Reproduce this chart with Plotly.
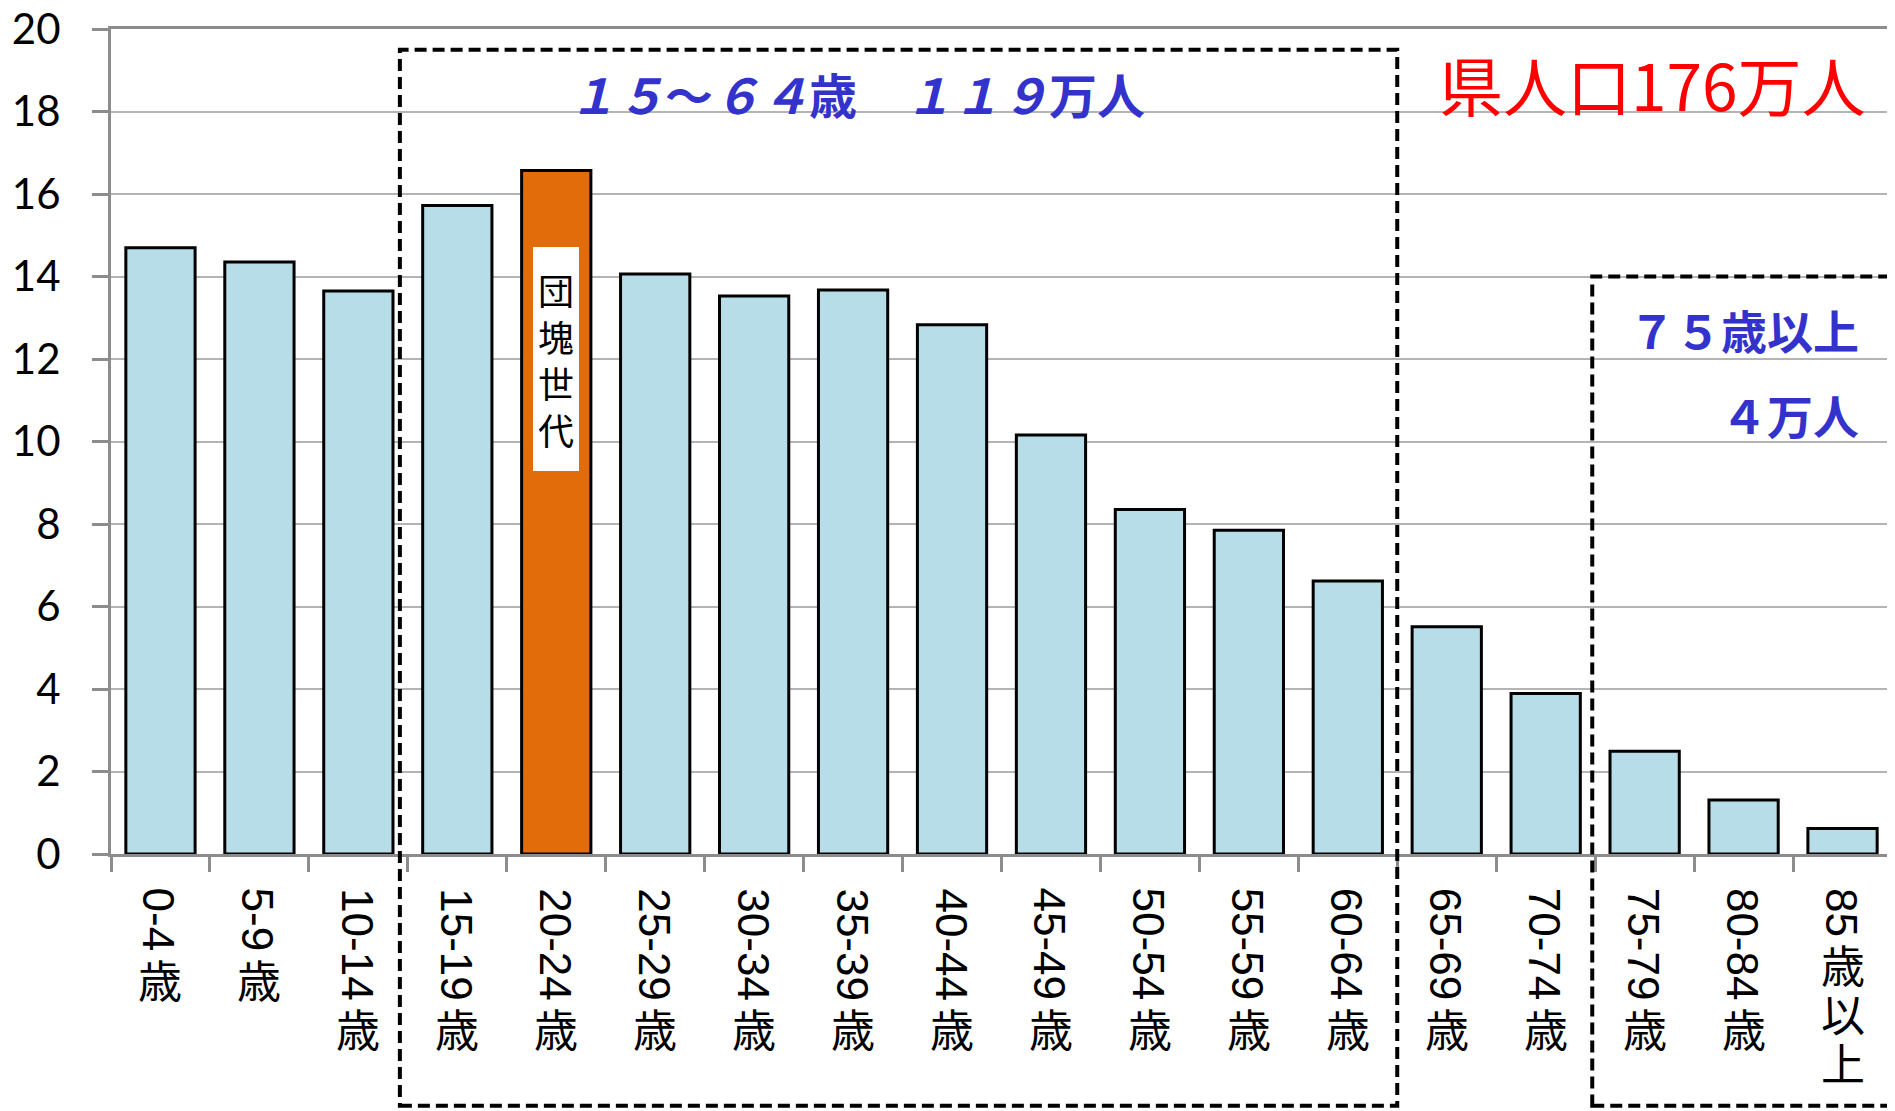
import plotly.graph_objects as go

# population by age group (万人)
AGE_GROUPS = [
    "0-4歳", "5-9歳", "10-14歳", "15-19歳", "20-24歳", "25-29歳",
    "30-34歳", "35-39歳", "40-44歳", "45-49歳", "50-54歳", "55-59歳",
    "60-64歳", "65-69歳", "70-74歳", "75-79歳", "80-84歳", "85歳以上",
]
POPULATION = [
    14.70, 14.35, 13.65, 15.72, 16.57, 14.06,
    13.53, 13.67, 12.83, 10.16, 8.35, 7.85,
    6.62, 5.51, 3.89, 2.49, 1.31, 0.62,
]
HIGHLIGHT_GROUP = "20-24歳"
HIGHLIGHT_LABEL = "団塊世代"
TOTAL_LABEL = "県人口176万人"
WORKING_LABEL = "<i>１５</i>～<i>６４</i>歳　<i>１１９</i>万人"
ELDERLY_LABEL = ["７５歳以上", "４万人"]

JP = "Noto Sans CJK JP"
LATIN = "Liberation Sans"
BLUE_TEXT = "#3333CC"
BAR_BLUE = "#B7DDE8"
BAR_ORANGE = "#E36C0A"
AXIS_GRAY = "#8c8c8c"
GRID_GRAY = "#b4b4b4"
LABEL_SIZE = 44


def split_label(label):
    i = 0
    while i < len(label) and (label[i].isdigit() or label[i] == "-"):
        i += 1
    return label[:i], label[i:]


def text_len(s, size):
    return sum(0.333 if c == "-" else 0.556 for c in s) * size


colors = [BAR_ORANGE if g == HIGHLIGHT_GROUP else BAR_BLUE for g in AGE_GROUPS]

fig = go.Figure()
fig.add_trace(
    go.Bar(
        x=AGE_GROUPS,
        y=POPULATION,
        marker=dict(color=colors, line=dict(color="black", width=3)),
        showlegend=False,
    )
)

annotations = []
# vertical (tategaki-like) category labels: digits turned, kanji upright
for g in AGE_GROUPS:
    num, kanji = split_label(g)
    L = text_len(num, LABEL_SIZE)
    annotations.append(dict(
        x=g, xref="x", y=0, yref="paper", yanchor="top", xanchor="center",
        text=num, textangle=90, showarrow=False, yshift=-32, xshift=-1,
        font=dict(family=LATIN, size=LABEL_SIZE, color="black"),
    ))
    for k, ch in enumerate(kanji):
        annotations.append(dict(
            x=g, xref="x", y=0, yref="paper", yanchor="middle", xanchor="center",
            text=ch, showarrow=False, yshift=-(61 + L + 49 * k),
            height=46, valign="middle", borderpad=0, borderwidth=0,
            font=dict(family=JP, size=LABEL_SIZE, color="black"),
        ))

annotations.append(dict(
    x=HIGHLIGHT_GROUP, xref="x", y=12, yref="y",
    text="<br>".join(HIGHLIGHT_LABEL), showarrow=False,
    bgcolor="white", width=36, height=214, borderpad=5, borderwidth=0,
    font=dict(family=JP, size=36, color="black"),
))
annotations.append(dict(
    x=7.04, xref="x", y=18.45, yref="y", text=WORKING_LABEL, showarrow=False,
    font=dict(family=JP, size=48, color=BLUE_TEXT, weight="bold"),
))
annotations.append(dict(
    x=15.08, xref="x", y=18.69, yref="y", text=TOTAL_LABEL, showarrow=False,
    font=dict(family=JP, size=64, color="#FF0000"),
))
for line, yv in zip(ELDERLY_LABEL, [12.73, 10.67]):
    annotations.append(dict(
        x=17.19, xref="x", y=yv, yref="y", xanchor="right", text=line,
        showarrow=False,
        font=dict(family=JP, size=46, color=BLUE_TEXT, weight="bold"),
    ))

dash_line = dict(color="black", width=4, dash="12px,6px")
shapes = [
    dict(type="rect", xref="paper", yref="paper", x0=0.1622, x1=0.7222,
         y0=-0.305, y1=0.975, line=dash_line, layer="above"),
    dict(type="rect", xref="paper", yref="paper", x0=0.8317, x1=1.006,
         y0=-0.305, y1=0.70, line=dash_line, layer="above"),
]

# page body has an 8px margin, so the figure is shrunk by that much
fig.update_layout(
    width=1887,
    height=1103,
    margin=dict(l=103, r=3, t=21, b=257, autoexpand=False),
    paper_bgcolor="white",
    plot_bgcolor="white",
    bargap=0.30,
    annotations=annotations,
    shapes=shapes,
    xaxis=dict(
        type="category",
        automargin=False,
        showticklabels=False,
        tickson="boundaries",
        ticks="outside",
        ticklen=15,
        tickwidth=3,
        tickcolor=AXIS_GRAY,
        showline=True,
        linecolor=AXIS_GRAY,
        linewidth=3,
        mirror=True,
        showgrid=False,
    ),
    yaxis=dict(
        range=[0, 20],
        dtick=2,
        tick0=0,
        automargin=False,
        showgrid=True,
        gridcolor=GRID_GRAY,
        gridwidth=2,
        zeroline=False,
        showline=True,
        linecolor=AXIS_GRAY,
        linewidth=3,
        mirror=True,
        ticks="outside",
        ticklen=16,
        tickwidth=3,
        tickcolor=AXIS_GRAY,
        ticklabelstandoff=23,
        ticklabeloverflow="allow",
        tickfont=dict(family="Lato", size=42, color="black"),
    ),
)

fig.write_html("out.html")
